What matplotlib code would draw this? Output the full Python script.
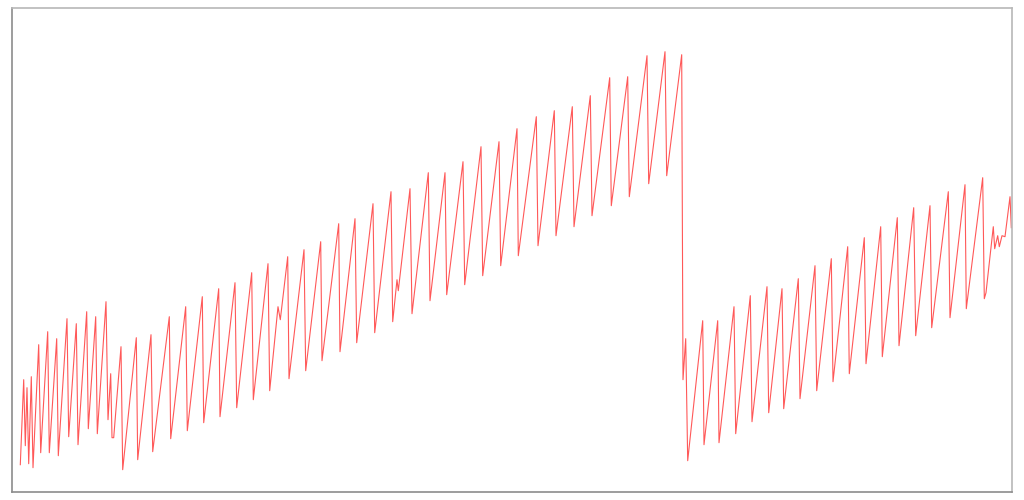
import matplotlib
matplotlib.use("Agg")
import matplotlib.pyplot as plt

t = [
    8.3, 11.7, 13.3, 15, 16.7, 19.3, 21, 26.7, 28.7, 35.7, 37.3, 44.7, 46.3,
    55, 56.7, 64.3, 66, 74.7, 76.3, 83.7, 85.3, 94, 96, 98.7, 100, 101.7,
    109, 110.7,
    124.3, 125.7, 139, 140.7, 157.3, 158.7, 173.7, 175.3, 190.3, 191.7,
    206.7, 208, 223, 224.7, 239.7, 241.3, 256, 257.7,
    266, 268.3, 275.7, 277, 292, 293.7, 308.7, 310, 326.7, 328, 343, 344.7,
    361, 362.7, 379, 380.7, 385, 386.3, 398, 400, 416.3, 418,
    433, 434.7, 451, 452.7, 469, 470.7, 487, 488.7, 505, 506.3, 524.3, 526,
    542.3, 544, 560.3, 562, 578.3, 580,
    597.7, 599.3, 615.7, 617.3, 635, 636.7, 653, 654.7, 669.7, 671, 673.7,
    675.7,
    690.7, 692, 705.7, 707, 722, 723.7, 738.3, 740, 755, 756.7, 770, 771.7,
    786.3, 788, 803, 804.7, 819.3, 821,
    835.7, 837.3, 852.3, 854, 868.7, 870.3, 885.3, 887, 901.7, 903.7, 918,
    919.7, 936.3, 938, 953, 954.3, 970.7, 972.3, 974, 981.3, 982.7, 985.7,
    987.3, 990, 993, 998, 999.3,
]
level = [
    27, 112, 46, 104, 28, 115, 24, 147, 39, 160, 39, 153, 36,
    173, 55, 168, 47, 180, 63, 175, 58, 190, 72, 118, 54, 54,
    145, 22,
    154, 32, 157, 40, 175, 53, 185, 61, 195, 69,
    203, 75, 209, 84, 219, 92, 228, 101,
    185, 172, 235, 113, 242, 121, 250, 131, 268, 140, 273, 149,
    288, 159, 300, 170, 212, 201, 303, 178, 319, 191,
    319, 197, 330, 207, 345, 216, 350, 226, 363, 236, 375, 246,
    381, 256, 385, 265, 396, 276,
    414, 286, 415, 295, 436, 308, 440, 316, 437, 112, 153,
    31,
    171, 47, 171, 49, 185, 58, 196, 70, 205, 79, 203, 83,
    213, 93, 226, 101, 233, 110,
    245, 118, 254, 128, 265, 135, 274, 146, 284, 156, 286,
    164, 300, 174, 307, 183, 314, 193, 199, 265, 243, 256,
    245, 256, 255, 295, 264,
]

fig = plt.figure(figsize=(10.24, 5.0), dpi=100)
ax = fig.add_axes([12 / 1024, 8.3 / 500, 1000 / 1024, 483.7 / 500])

ax.plot(t, level, color="#ff3b3b", linewidth=0.8, alpha=0.85)

ax.set_xlim(0, 1000)
ax.set_ylim(0, 483.7)
ax.set_xticks([])
ax.set_yticks([])

# darker frame on the left/bottom, lighter on top/right
for side in ["left", "bottom"]:
    ax.spines[side].set_color("#8c8c8c")
    ax.spines[side].set_linewidth(1.2)
for side in ["top", "right"]:
    ax.spines[side].set_color("#b8b8b8")
    ax.spines[side].set_linewidth(1.2)

fig.savefig("out.png", dpi=100)
